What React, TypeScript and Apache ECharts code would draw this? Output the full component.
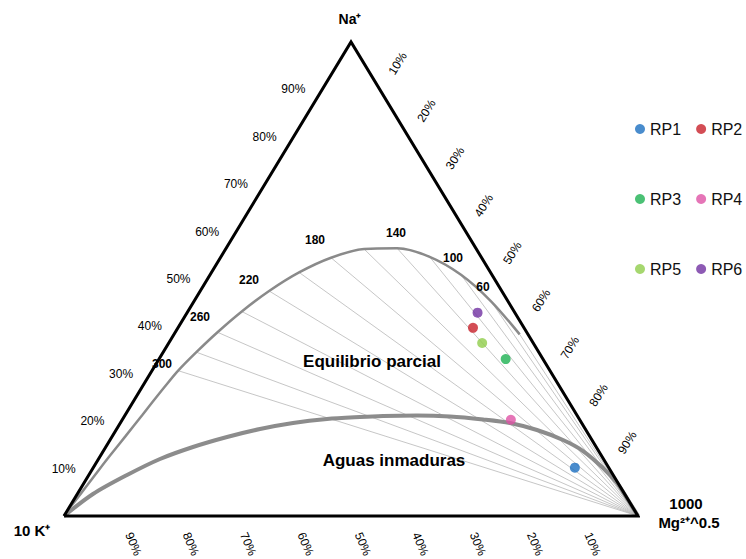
import React, { useEffect, useRef } from "react";
import * as echarts from "echarts";

// Samples (ternary %, Na / 10K / 1000·Mg^0.5)
const sampleNames = ["RP1", "RP2", "RP3", "RP4", "RP5", "RP6"];
const sampleNa = [10.2, 39.7, 33.1, 20.3, 36.5, 42.9];
const sampleK = [5.9, 8.9, 6.5, 12.0, 8.9, 6.5];
const sampleMg = [83.9, 51.4, 60.4, 67.7, 54.6, 50.6];
const sampleColors = ["#1c6fc1", "#c8202b", "#1eb152", "#de52a5", "#90cd4b", "#7131a1"];

// Full equilibrium curve (°C, ternary %)
const eqTemps = [60, 80, 100, 120, 140, 160, 180, 200, 220, 240, 260, 280, 300, 320, 340, 360, 400, 450, 500, 600, 800, 1200];
const eqNa = [38.32, 45.3, 50.89, 54.67, 56.47, 56.33, 54.49, 51.39, 47.47, 43.15, 38.76, 34.56, 30.66, 27.15, 24.03, 21.3, 16.85, 12.81, 9.98, 6.48, 3.39, 1.54];
const eqK = [1.45, 2.95, 5.39, 8.96, 13.72, 19.57, 26.24, 33.35, 40.53, 47.45, 53.87, 59.66, 64.78, 68.95, 72.57, 75.7, 80.85, 85.54, 88.77, 92.72, 96.23, 98.34];
const eqMg = [60.23, 51.75, 43.72, 36.37, 29.81, 24.1, 19.27, 15.26, 12.0, 9.4, 7.36, 5.78, 4.56, 3.9, 3.4, 3.0, 2.3, 1.65, 1.25, 0.8, 0.38, 0.12];

// Tie lines (K/Na isotherms) from the Mg vertex
const tieTemps = [60, 80, 100, 120, 140, 160, 180, 200, 220, 240, 260, 280, 300];
const tempLabels = ["300", "260", "220", "180", "140", "100", "60"];

// Immature waters line (ternary %)
const imNa = [0, 4.64, 8.65, 12.03, 14.56, 16.67, 18.35, 19.62, 20.46, 20.89, 21.1, 21.2, 20.99, 20.36, 19.62, 18.14, 16.03, 13.71, 10.13, 6.96, 3.38, 0];
const imMg = [0, 2.73, 6.66, 10.71, 15.19, 20.07, 24.97, 30.09, 35.59, 41.12, 45.02, 50.9, 56.75, 62.82, 67.89, 73.33, 78.92, 83.57, 88.84, 92.86, 96.57, 100];
const imK = [100, 92.63, 84.69, 77.26, 70.25, 63.26, 56.68, 50.29, 43.95, 37.99, 33.88, 27.9, 22.26, 16.82, 12.49, 8.53, 5.05, 2.72, 1.03, 0.18, 0.05, 0];

const tickPercents = [10, 20, 30, 40, 50, 60, 70, 80, 90];

const naVertex = [100, 0, 0];
const kVertex = [0, 100, 0];
const mgVertex = [0, 0, 100];

function toXY(na: number, k: number, mg: number): number[] {
  const s = na + k + mg;
  return [(mg + na / 2) / s, na / s];
}

const FONT = "Liberation Sans, Arial, Helvetica, sans-serif";

export default function App() {
  const ref = useRef<HTMLDivElement>(null);

  useEffect(() => {
    if (!ref.current) return;
    const chart = echarts.init(ref.current, undefined, { renderer: "svg" });

    const eqData = eqTemps.map((_, i) => toXY(eqNa[i], eqK[i], eqMg[i]));
    eqData.push(toXY(kVertex[0], kVertex[1], kVertex[2]));
    const imData = imNa.map((_, i) => toXY(imNa[i], imK[i], imMg[i]));
    const mgXY = toXY(mgVertex[0], mgVertex[1], mgVertex[2]);
    const tieData = tieTemps.map((t) => {
      const i = eqTemps.indexOf(t);
      return { coords: [mgXY, toXY(eqNa[i], eqK[i], eqMg[i])] };
    });
    const triData = [kVertex, mgVertex, naVertex, kVertex].map((v) => toXY(v[0], v[1], v[2]));

    const option: any = {
      animation: false,
      grid: { left: 64, right: 108, top: 42, bottom: 43 },
      xAxis: { type: "value", min: 0, max: 1, show: false },
      yAxis: { type: "value", min: 0, max: 1, show: false },
      legend: [0, 1, 2].map((r) => ({
        data: [sampleNames[2 * r], sampleNames[2 * r + 1]],
        left: 635,
        top: 121 + 70 * r,
        orient: "horizontal",
        icon: "circle",
        itemWidth: 10,
        itemHeight: 10,
        itemGap: 15,
        padding: 0,
        selectedMode: false,
        textStyle: { fontSize: 16, color: "#111", fontFamily: FONT },
      })),
      series: [
        {
          type: "lines",
          coordinateSystem: "cartesian2d",
          silent: true,
          z: 1,
          data: tieData,
          lineStyle: { color: "#b8b8b8", width: 0.8, opacity: 1 },
        },
        {
          type: "line",
          data: eqData,
          showSymbol: false,
          smooth: 0.3,
          clip: false,
          silent: true,
          z: 2,
          lineStyle: { color: "#8a8a8a", width: 2.5 },
        },
        {
          type: "line",
          data: imData,
          showSymbol: false,
          smooth: 0.3,
          clip: false,
          silent: true,
          z: 2,
          lineStyle: { color: "#8c8c8c", width: 4 },
        },
        {
          type: "line",
          data: triData,
          showSymbol: false,
          clip: false,
          silent: true,
          z: 3,
          lineStyle: { color: "#000", width: 3, join: "miter" },
        },
        ...sampleNames.map((n, i) => ({
          type: "scatter",
          name: n,
          data: [toXY(sampleNa[i], sampleK[i], sampleMg[i])],
          symbol: "circle",
          symbolSize: 10,
          clip: false,
          z: 5,
          itemStyle: { color: sampleColors[i] },
        })),
      ],
    };
    chart.setOption(option);

    const px = (v: number[]) => chart.convertToPixel({ gridIndex: 0 }, v) as number[];
    const txt = (text: string, x: number, y: number, size: number, bold: boolean, rot = 0) => ({
      type: "text",
      x,
      y,
      rotation: rot,
      z: 10,
      silent: true,
      style: {
        text,
        fontSize: size,
        fontFamily: FONT,
        fontWeight: bold ? "bold" : "normal",
        fill: "#000",
        align: "center",
        verticalAlign: "middle",
        textAlign: "center",
        textVerticalAlign: "middle",
      },
    });

    const graphics: any[] = [];
    tickPercents.forEach((p) => {
      const a = px(toXY(p, 100 - p, 0));
      graphics.push(txt(p + "%", a[0] - 29, a[1], 12, false));
      const b = px(toXY(100 - p, 0, p));
      graphics.push(txt(p + "%", b[0] + 18, b[1] - 26, 12, false, (58 * Math.PI) / 180));
      const c = px(toXY(0, p, 100 - p));
      graphics.push(txt(p + "%", c[0] + 12, c[1] + 28, 12, false, (-67 * Math.PI) / 180));
    });

    const tempPos: Record<string, number[]> = {
      "300": [162, 364],
      "260": [200, 317],
      "220": [249, 280],
      "180": [315, 240],
      "140": [396, 233],
      "100": [453, 258],
      "60": [483, 287],
    };
    tempLabels.forEach((t) => {
      graphics.push(txt(t, tempPos[t][0], tempPos[t][1], 12, true));
    });

    graphics.push(txt("Equilibrio parcial", 372, 361, 17, true));
    graphics.push(txt("Aguas inmaduras", 394, 460, 17, true));
    graphics.push(txt("Na⁺", 350, 19, 14, true));
    graphics.push(txt("10 K⁺", 32, 530, 15, true));
    graphics.push(txt("1000", 686, 503, 15, true));
    graphics.push(txt("Mg²⁺^0.5", 689, 522, 15, true));

    chart.setOption({ graphic: { elements: graphics } });

    return () => chart.dispose();
  }, []);

  return (
    <div
      ref={ref}
      style={{ position: "fixed", left: 0, top: 0, width: 746, height: 559, background: "#fff" }}
    />
  );
}
